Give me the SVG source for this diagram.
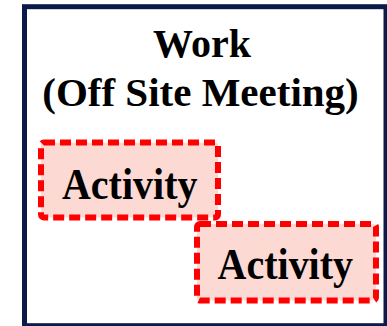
<svg xmlns="http://www.w3.org/2000/svg" width="387" height="326" viewBox="0 0 387 326">
  <style>
    .t { font-family: "Liberation Serif", "Times New Roman", serif; font-weight: bold; fill: #000; text-anchor: middle; }
    .act { fill: #fcd9d3; stroke: #ff0000; stroke-width: 6; stroke-dasharray: 11 5; }
  </style>
  <g id="work">
    <rect x="24.5" y="6.7" width="361.5" height="319" fill="#ffffff" stroke="#0b1a48" stroke-width="5"/>
    <text class="t" x="202" y="57" font-size="40">Work</text>
    <text class="t" x="200.5" y="106" font-size="41">(Off Site Meeting)</text>
  </g>
  <g id="activity1">
    <rect class="act" x="41" y="142.5" width="177" height="75" rx="3"/>
    <text class="t" font-size="40" transform="translate(129.7 199.3) scale(1 1.1)">Activity</text>
  </g>
  <g id="activity2">
    <rect class="act" x="197" y="224" width="179" height="76.5" rx="3"/>
    <text class="t" font-size="40" transform="translate(285.3 279.3) scale(1 1.1)">Activity</text>
  </g>
  <g id="connectors"/>
</svg>
